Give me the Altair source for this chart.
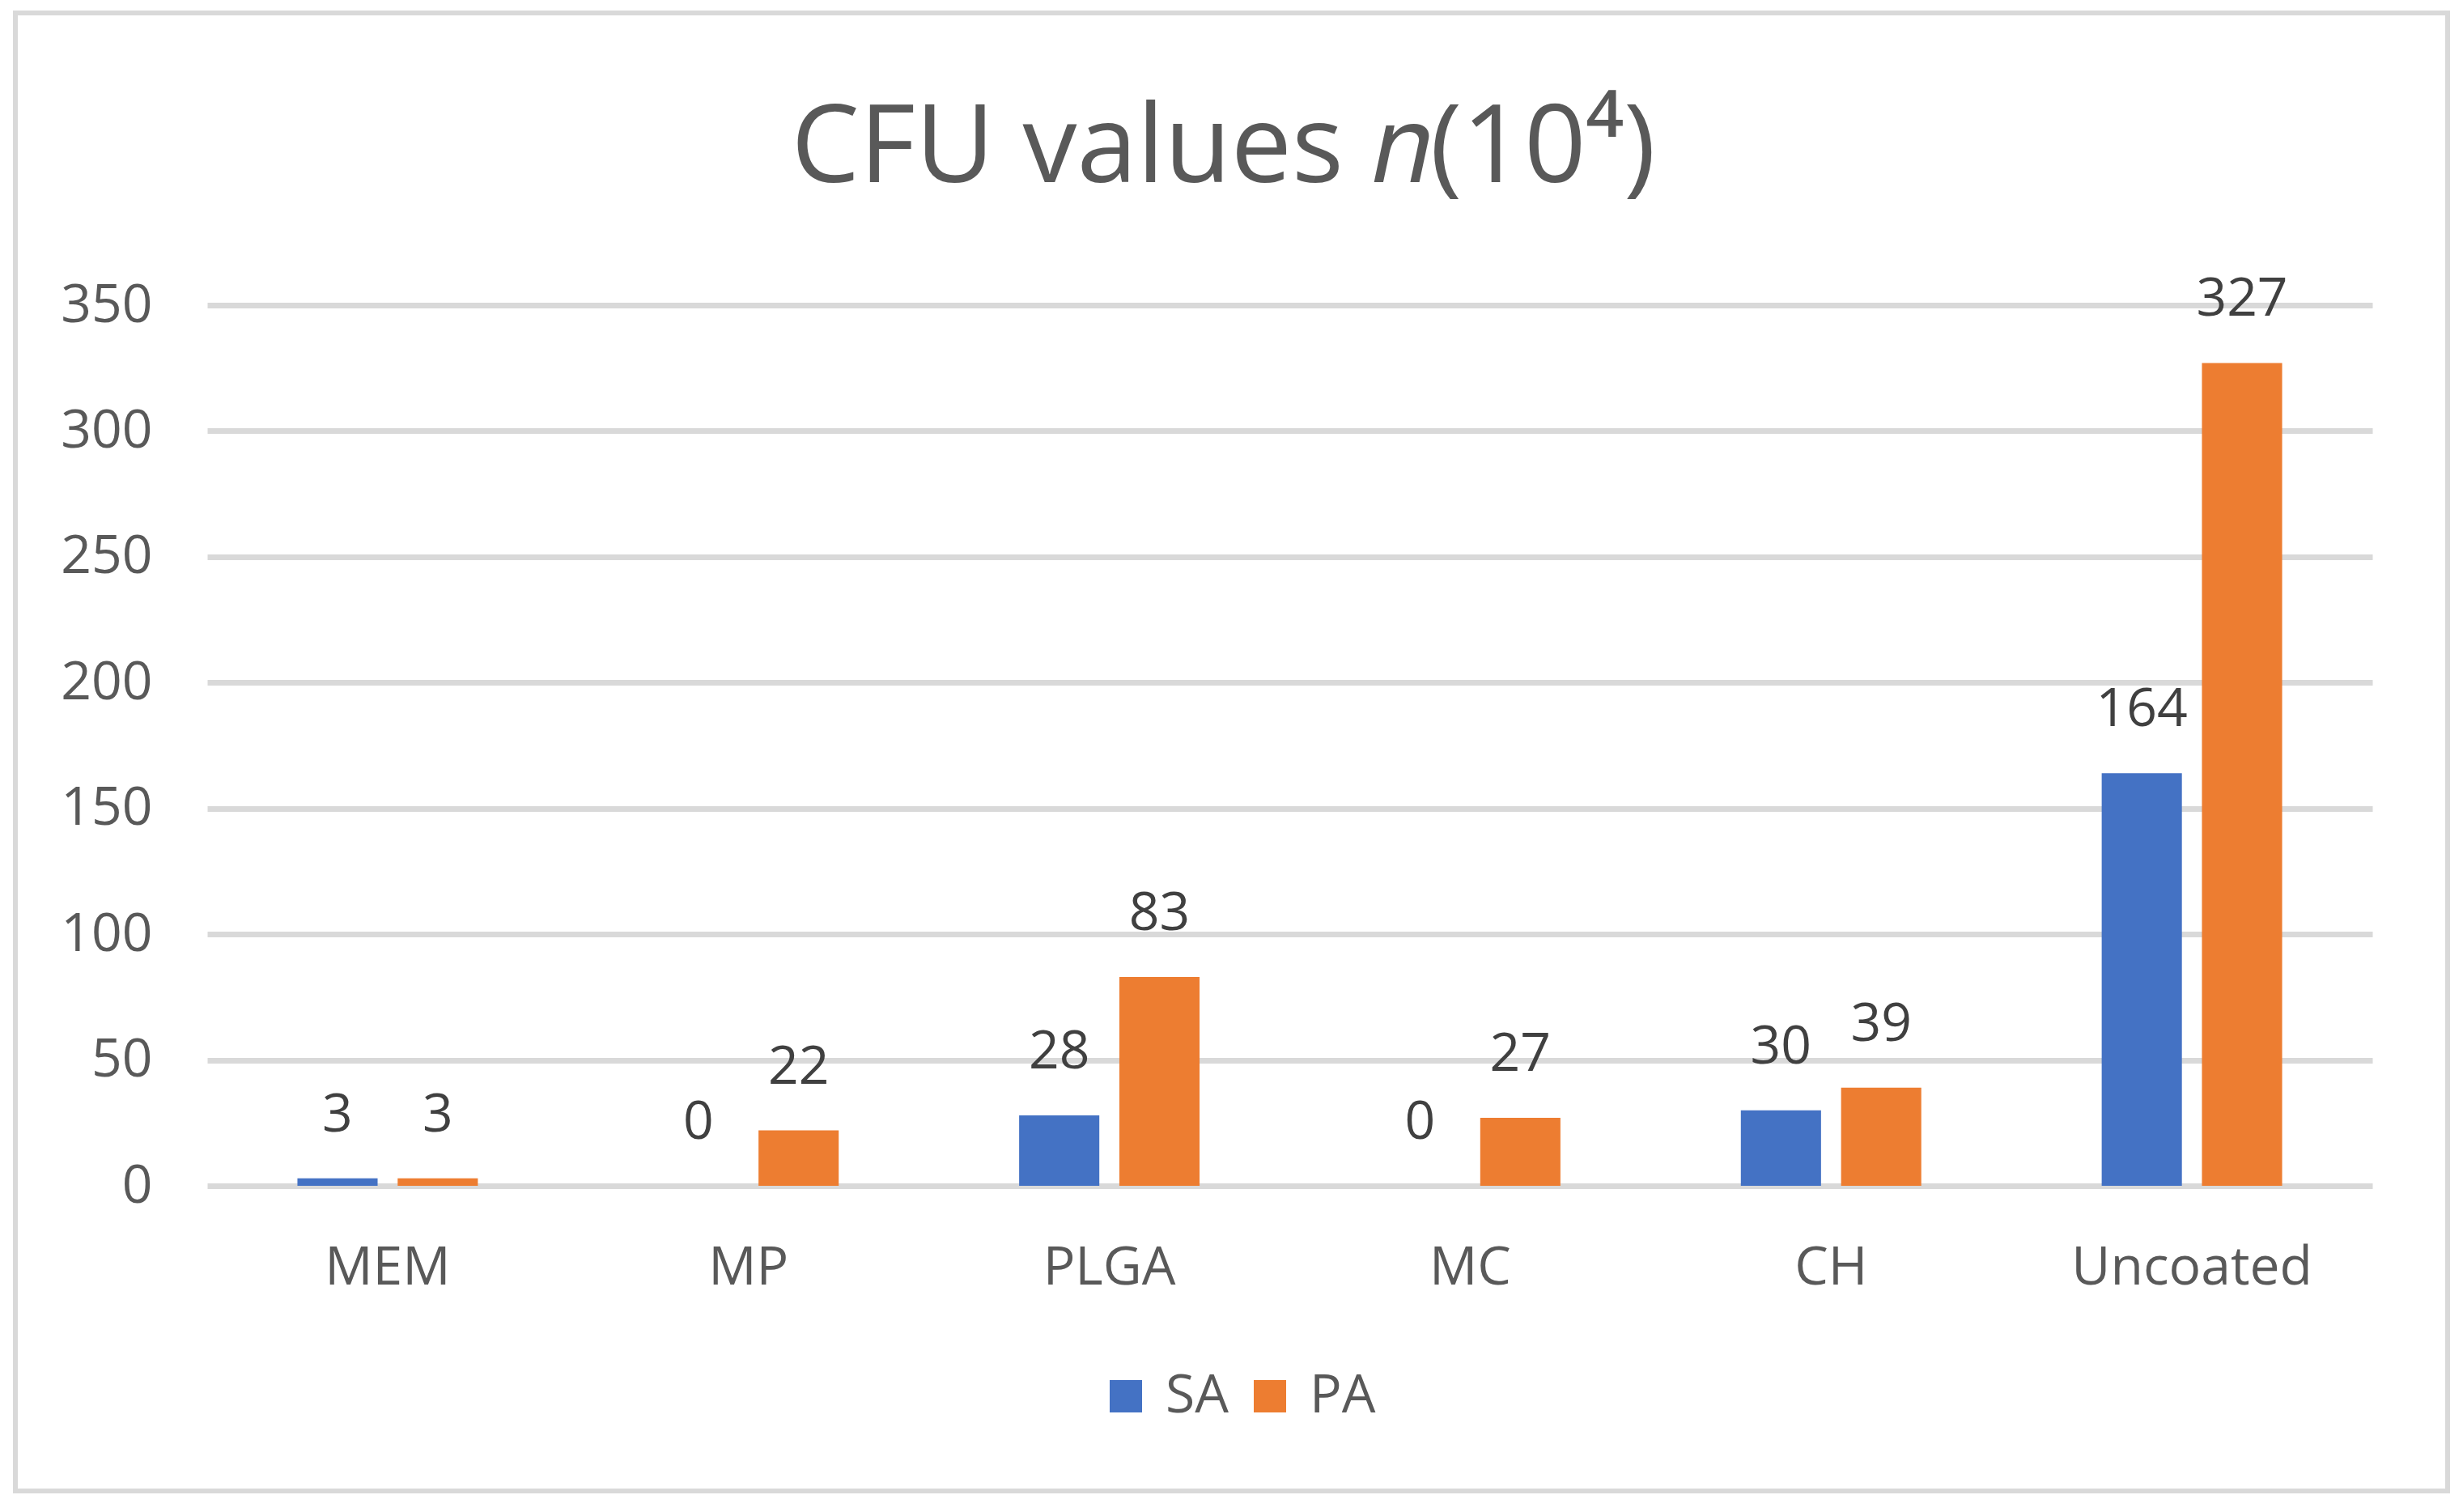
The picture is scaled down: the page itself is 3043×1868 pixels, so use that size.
import altair as alt
import pandas as pd

categories = ["MEM", "MP", "PLGA", "MC", "CH", "Uncoated"]
series = ["SA", "PA"]
sa_values = [3, 0, 28, 0, 30, 164]
pa_values = [3, 22, 83, 27, 39, 327]
y_ticks = [0, 50, 100, 150, 200, 250, 300, 350]

rows = []
for c, s, p in zip(categories, sa_values, pa_values):
    rows.append({"cat": c, "series": "SA", "value": s})
    rows.append({"cat": c, "series": "PA", "value": p})
df = pd.DataFrame(rows)

FONT = "Open Sans"
TXT = "#595959"

x_enc = alt.X("cat:N", sort=categories, title=None,
              scale=alt.Scale(paddingInner=0.5, paddingOuter=0.25),
              axis=alt.Axis(labelFont=FONT, labelFontSize=66, labelColor=TXT,
                            labelAngle=0, ticks=False, domain=False, grid=False,
                            labelLimit=1000,
                            labelBaseline="alphabetic", labelPadding=121))
xo_enc = alt.XOffset("series:N", sort=series, scale=alt.Scale(paddingInner=0.2))
y_enc = alt.Y("value:Q", title=None,
              scale=alt.Scale(domain=[0, 350], nice=False),
              axis=alt.Axis(values=y_ticks, labelFont=FONT, labelFontSize=66,
                            labelColor=TXT, ticks=False, domain=False,
                            gridColor="#D9D9D9", gridWidth=7, labelPadding=68))
color_enc = alt.Color("series:N", sort=series,
                      scale=alt.Scale(domain=series, range=["#4472C4", "#ED7D31"]),
                      legend=alt.Legend(title=None, orient="none", direction="horizontal",
                                        legendX=1102, legendY=1315, padding=0,
                                        symbolType="square", symbolSize=1600,
                                        symbolStrokeWidth=0,
                                        labelFont=FONT, labelFontSize=66, labelColor=TXT,
                                        labelOffset=16, columnPadding=18))

base = alt.Chart(df)
bars = base.mark_bar().encode(x=x_enc, xOffset=xo_enc, y=y_enc, color=color_enc)
labels = base.mark_text(font=FONT, fontSize=66, color="#404040", baseline="alphabetic",
                        dy=-58).encode(
    x=alt.X("cat:N", sort=categories),
    xOffset=alt.XOffset("series:N", sort=series),
    y="value:Q",
    text="value:Q",
)
border = alt.Chart(pd.DataFrame({"a": [1]})).mark_rect(
    fill=None, stroke="#D9D9D9", strokeWidth=6, clip=False
).encode(x=alt.value(-237), x2=alt.value(2768), y=alt.value(-361), y2=alt.value(1465))

chart = alt.layer(bars, labels, border).properties(
    width=2675, height=1088,
    padding={"left": 248, "top": 369, "right": 100, "bottom": 380},
    autosize=alt.AutoSizeParams(type="none"),
    background="white",
    title=alt.TitleParams(text="CFU values 𝑛(10⁴)", font=FONT, fontSize=134,
                          fontWeight="normal", color=TXT, anchor="middle",
                          baseline="alphabetic", offset=-346, dx=-82),
).configure_view(stroke=None)

chart.save("out.html", embed_options={"renderer": "svg", "actions": False})
